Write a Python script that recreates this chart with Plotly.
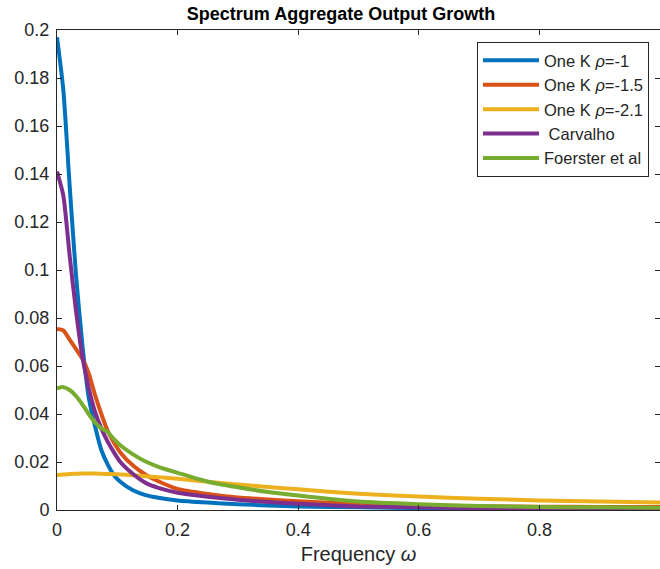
import plotly.graph_objects as go

# Frequency grid (omega) and spectra
omega = [0, 0.0105, 0.021, 0.0315, 0.042, 0.0525, 0.063, 0.0735, 0.084, 0.0945,
         0.105, 0.126, 0.147, 0.168, 0.2, 0.25, 0.3, 0.35, 0.4, 0.5, 0.6, 0.7,
         0.8, 0.9, 1.0]

one_k_rho_1 = [0.197, 0.175, 0.135, 0.098, 0.069, 0.047, 0.035, 0.025, 0.019, 0.0145,
               0.0118, 0.0082, 0.0062, 0.0051, 0.0040, 0.0031, 0.0024, 0.0019, 0.0015,
               0.0011, 0.0008, 0.0006, 0.0005, 0.0004, 0.0003]

one_k_rho_15 = [0.0754, 0.0748, 0.071, 0.067, 0.063, 0.057, 0.048, 0.040, 0.033, 0.028,
                0.024, 0.0185, 0.0147, 0.0120, 0.0088, 0.0067, 0.0052, 0.0044, 0.0036,
                0.0025, 0.0020, 0.0016, 0.0014, 0.0013, 0.0012]

one_k_rho_21 = [0.0146, 0.0148, 0.0150, 0.0151, 0.0152, 0.0152, 0.0152, 0.0151, 0.0150,
                0.0149, 0.0148, 0.0145, 0.0141, 0.0137, 0.0130, 0.0118, 0.0106, 0.0096,
                0.0086, 0.0068, 0.0056, 0.0047, 0.0040, 0.0035, 0.0031]

carvalho = [0.141, 0.131, 0.106, 0.083, 0.064, 0.051, 0.041, 0.034, 0.0285, 0.024,
            0.0200, 0.0150, 0.0113, 0.0092, 0.0072, 0.0055, 0.0043, 0.0033, 0.0026,
            0.0015, 0.0011, 0.0008, 0.0006, 0.0005, 0.0004]

foerster = [0.0507, 0.0512, 0.050, 0.0475, 0.044, 0.040, 0.0365, 0.034, 0.0325, 0.0295,
            0.0270, 0.0232, 0.0202, 0.0180, 0.0155, 0.0118, 0.0095, 0.0075, 0.0060,
            0.0035, 0.0024, 0.0017, 0.0013, 0.0011, 0.0009]

series_names = ["One K <i>ρ</i>=-1", "One K <i>ρ</i>=-1.5", "One K <i>ρ</i>=-2.1",
                " Carvalho", "Foerster et al"]
series_values = [one_k_rho_1, one_k_rho_15, one_k_rho_21, carvalho, foerster]
colors = ["#0072BD", "#D95319", "#EDB120", "#7E2F8E", "#77AC30"]

y_ticks = [0, 0.02, 0.04, 0.06, 0.08, 0.1, 0.12, 0.14, 0.16, 0.18, 0.2]
y_tick_labels = ["0", "0.02", "0.04", "0.06", "0.08", "0.1", "0.12", "0.14", "0.16", "0.18", "0.2"]
x_ticks = [0, 0.2, 0.4, 0.6, 0.8]
x_tick_labels = ["0", "0.2", "0.4", "0.6", "0.8"]

FONT = "Liberation Sans, Arial, Helvetica, sans-serif"
AX = "#262626"
W, H = 660, 569
ML, MT, MB = 57, 30, 59

fig = go.Figure()
for name, vals, col in zip(series_names, series_values, colors):
    fig.add_trace(go.Scatter(x=omega, y=vals, mode="lines", name=name,
                             line=dict(color=col, width=4, shape="spline", smoothing=0.6)))

plot_w = W - ML
plot_h = H - MT - MB
fig.update_layout(
    width=W, height=H,
    margin=dict(l=ML, r=0, t=MT, b=MB),
    paper_bgcolor="white", plot_bgcolor="white",
    font=dict(family=FONT, size=18, color=AX),
    title=dict(text="<b>Spectrum Aggregate Output Growth</b>",
               x=(341 - ML) / plot_w, xref="paper", xanchor="center",
               y=1 - 14 / H, yref="container", yanchor="middle",
               font=dict(family=FONT, size=18, color="black")),
    showlegend=True,
    legend=dict(x=(477 - ML) / plot_w, y=1 - (42 - MT) / plot_h, xanchor="left", yanchor="top",
                bgcolor="white", bordercolor=AX, borderwidth=1,
                font=dict(family=FONT, size=16.5, color=AX), itemwidth=56,
                tracegroupgap=0),
)
fig.update_xaxes(range=[0, 1.0], tickvals=x_ticks, ticktext=x_tick_labels,
                 ticks="inside", ticklen=5, tickcolor=AX, showline=True, linecolor=AX,
                 linewidth=1, mirror="allticks", showgrid=False, zeroline=False,
                 ticklabelstandoff=3, tickfont=dict(size=18),
                 title=dict(text="Frequency <i>ω</i>", font=dict(family=FONT, size=20, color=AX),
                            standoff=8))
fig.update_yaxes(range=[0, 0.2], tickvals=y_ticks, ticktext=y_tick_labels,
                 ticks="inside", ticklen=5, tickcolor=AX, showline=True, linecolor=AX,
                 linewidth=1, mirror="allticks", showgrid=False, zeroline=False,
                 ticklabelstandoff=3, tickfont=dict(size=18))

fig.write_html("out.html", config={"displayModeBar": False},
               post_script="document.body.style.margin='0';")
